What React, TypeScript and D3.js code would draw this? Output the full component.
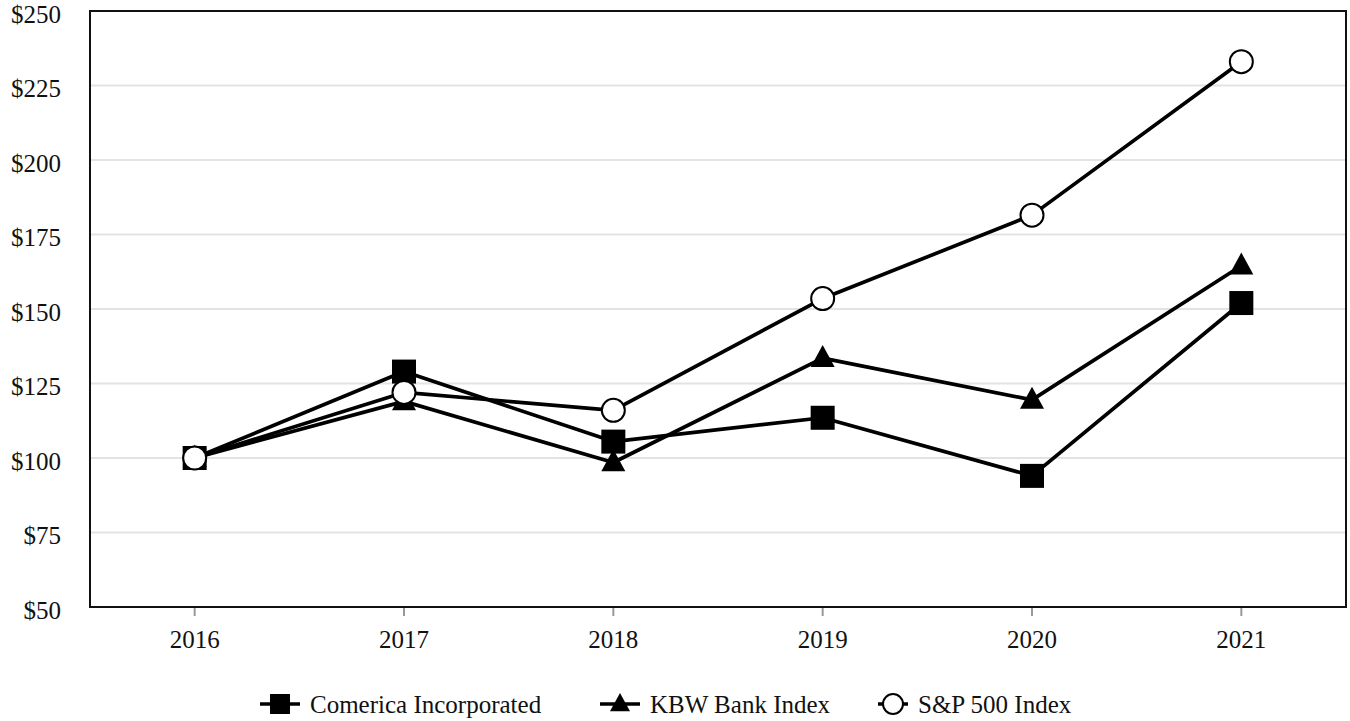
import * as d3 from "d3";
import { useEffect, useRef } from "react";

const years = ["2016", "2017", "2018", "2019", "2020", "2021"];
const comerica = [100, 129, 105.5, 113.5, 94, 152];
const kbw = [100, 119, 98.5, 133.5, 119.5, 164.5];
const sp500 = [100, 122, 116, 153.5, 181.5, 233];
const yTicks = [50, 75, 100, 125, 150, 175, 200, 225, 250];

type Series = { name: string; values: number[]; marker: "square" | "triangle" | "circle" };

const series: Series[] = [
  { name: "Comerica Incorporated", values: comerica, marker: "square" },
  { name: "KBW Bank Index", values: kbw, marker: "triangle" },
  { name: "S&P 500 Index", values: sp500, marker: "circle" },
];

const FONT = "'Liberation Serif', 'Times New Roman', serif";

export default function App() {
  const ref = useRef<SVGSVGElement | null>(null);

  useEffect(() => {
    const width = 1350;
    const height = 721;
    const svg = d3.select(ref.current);
    svg.selectAll("*").remove();
    svg.attr("width", width).attr("height", height);

    const left = 90;
    const right = 1346;
    const top = 11;
    const bottom = 607;

    const x = d3.scalePoint<string>().domain(years).range([left, right]).padding(0.5);
    const y = d3.scaleLinear().domain([50, 250]).range([bottom, top]);

    // gridlines
    svg
      .append("g")
      .selectAll("line")
      .data(yTicks.filter((t) => t !== 50 && t !== 250))
      .enter()
      .append("line")
      .attr("x1", left)
      .attr("x2", right)
      .attr("y1", (d) => y(d))
      .attr("y2", (d) => y(d))
      .attr("stroke", "#e3e3e3")
      .attr("stroke-width", 2);

    // y labels (sit a little below their gridline, as in the source)
    svg
      .append("g")
      .selectAll("text")
      .data(yTicks)
      .enter()
      .append("text")
      .attr("x", 61)
      .attr("y", (d) => y(d) + 3)
      .attr("dy", "0.35em")
      .attr("text-anchor", "end")
      .attr("font-family", FONT)
      .attr("font-size", 25)
      .attr("fill", "#111")
      .text((d) => `$${d}`);

    // x ticks and labels
    const xg = svg.append("g");
    xg.selectAll("line")
      .data(years)
      .enter()
      .append("line")
      .attr("x1", (d) => x(d) as number)
      .attr("x2", (d) => x(d) as number)
      .attr("y1", bottom)
      .attr("y2", bottom + 9)
      .attr("stroke", "#999")
      .attr("stroke-width", 2);
    xg.selectAll("text")
      .data(years)
      .enter()
      .append("text")
      .attr("x", (d) => x(d) as number)
      .attr("y", 648)
      .attr("text-anchor", "middle")
      .attr("font-family", FONT)
      .attr("font-size", 25)
      .attr("fill", "#111")
      .text((d) => d);

    // frame
    svg
      .append("rect")
      .attr("x", left)
      .attr("y", top)
      .attr("width", right - left)
      .attr("height", bottom - top)
      .attr("fill", "none")
      .attr("stroke", "#111")
      .attr("stroke-width", 2);

    const line = d3
      .line<number>()
      .x((_, i) => x(years[i]) as number)
      .y((d) => y(d));

    const drawMarker = (
      g: d3.Selection<SVGGElement, unknown, null, undefined>,
      kind: Series["marker"],
      cx: number,
      cy: number,
      s: number
    ) => {
      if (kind === "square") {
        g.append("rect")
          .attr("x", cx - s / 2)
          .attr("y", cy - s / 2)
          .attr("width", s)
          .attr("height", s)
          .attr("fill", "#000");
      } else if (kind === "triangle") {
        const h = s * 0.92;
        g.append("path")
          .attr("d", `M${cx},${cy - h * 0.6}L${cx + s / 2},${cy + h * 0.4}L${cx - s / 2},${cy + h * 0.4}Z`)
          .attr("fill", "#000");
      } else {
        g.append("circle")
          .attr("cx", cx)
          .attr("cy", cy)
          .attr("r", s / 2)
          .attr("fill", "#fff")
          .attr("stroke", "#000")
          .attr("stroke-width", 2);
      }
    };

    series.forEach((s) => {
      const g = svg.append("g");
      g.append("path")
        .attr("d", line(s.values) as string)
        .attr("fill", "none")
        .attr("stroke", "#000")
        .attr("stroke-width", 3.7)
        .attr("stroke-linejoin", "round");
      s.values.forEach((v, i) => drawMarker(g, s.marker, x(years[i]) as number, y(v), s.marker === "circle" ? 23 : 24));
    });

    // legend
    const legendY = 704;
    const legendX = [260, 600, 878];
    series.forEach((s, i) => {
      const g = svg.append("g");
      const lx = legendX[i];
      const lw = i === 2 ? 30 : 40;
      g.append("line")
        .attr("x1", lx)
        .attr("x2", lx + lw)
        .attr("y1", legendY)
        .attr("y2", legendY)
        .attr("stroke", "#000")
        .attr("stroke-width", 3.5);
      drawMarker(g, s.marker, lx + lw / 2, legendY, 20);
      g.append("text")
        .attr("x", lx + lw + 10)
        .attr("y", legendY)
        .attr("dy", "0.35em")
        .attr("font-family", FONT)
        .attr("font-size", 25)
        .attr("fill", "#111")
        .text(s.name);
    });
  }, []);

  return <svg ref={ref} style={{ position: "absolute", left: 0, top: 0 }} />;
}
